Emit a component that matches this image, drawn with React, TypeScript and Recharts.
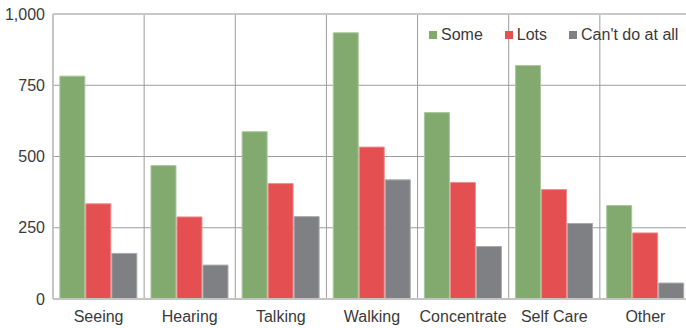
import { Bar, BarChart, CartesianGrid, Legend, XAxis, YAxis } from 'recharts';

const categories = ['Seeing', 'Hearing', 'Talking', 'Walking', 'Concentrate', 'Self Care', 'Other'];
const some = [782, 468, 587, 934, 654, 819, 328];
const lots = [334, 288, 405, 533, 409, 384, 232];
const cantDo = [160, 119, 289, 418, 184, 265, 56];
const yTicks = [0, 250, 500, 750, 1000];

const series = [
  { key: 'some', name: 'Some', color: '#82aa6f', edge: '#a9c79a' },
  { key: 'lots', name: 'Lots', color: '#e44f52', edge: '#f08c8e' },
  { key: 'cant', name: "Can't do at all", color: '#7f8084', edge: '#a8a9ac' },
];

const data = categories.map((name, i) => ({
  name,
  some: some[i],
  lots: lots[i],
  cant: cantDo[i],
}));

const font = '"Liberation Sans", Arial, sans-serif';

function LegendBox() {
  return (
    <div style={{ display: 'flex', fontFamily: font, fontSize: 16, color: '#3a3a3a' }}>
      {series.map((s, i) => (
        <div key={s.key} style={{ display: 'flex', alignItems: 'center', marginLeft: i === 0 ? 0 : 22 }}>
          <span style={{ width: 8, height: 8, background: s.color, marginRight: 4, display: 'inline-block' }} />
          {s.name}
        </div>
      ))}
    </div>
  );
}

export default function App() {
  return (
    <div
      style={{
        position: 'fixed',
        left: 0,
        top: 0,
        width: 686,
        height: 328,
        overflow: 'hidden',
        background: '#fff',
      }}
    >
      <BarChart
        width={692}
        height={328}
        data={data}
        margin={{ top: 14, right: 1, bottom: 0, left: 0 }}
        barCategoryGap="7.5%"
        barGap={1}
      >
        <CartesianGrid
          stroke="#9c9c9c"
          verticalCoordinatesGenerator={({ offset }: any) =>
            categories.map((_, i) => offset.left + (i * offset.width) / categories.length).slice(1)
          }
          horizontalValues={[250, 500, 750]}
        />
        <CartesianGrid stroke="#c8c8c8" strokeWidth={2} vertical={false} horizontalValues={[1000]} />
        <XAxis
          dataKey="name"
          tickLine={false}
          tickSize={0}
          tickMargin={12}
          height={29}
          axisLine={{ stroke: '#c4c4c4', strokeWidth: 2 }}
          tick={{ fill: '#3a3a3a', fontSize: 16, fontFamily: font }}
        />
        <YAxis
          domain={[0, 1000]}
          ticks={yTicks}
          width={53}
          tickLine={false}
          tickSize={0}
          tickMargin={8}
          axisLine={{ stroke: '#c4c4c4', strokeWidth: 2 }}
          tickFormatter={(v: number) => v.toLocaleString('en-US')}
          tick={{ fill: '#3a3a3a', fontSize: 16, fontFamily: font }}
          interval={0}
        />
        <Legend
          content={() => <LegendBox />}
          layout="horizontal"
          verticalAlign="middle"
          align="center"
          wrapperStyle={{ top: 26, left: 429, width: 'auto' }}
        />
        {series.map((s) => (
          <Bar
            key={s.key}
            dataKey={s.key}
            name={s.name}
            fill={s.color}
            stroke={s.edge}
            strokeWidth={1}
            isAnimationActive={false}
          />
        ))}
      </BarChart>
    </div>
  );
}
